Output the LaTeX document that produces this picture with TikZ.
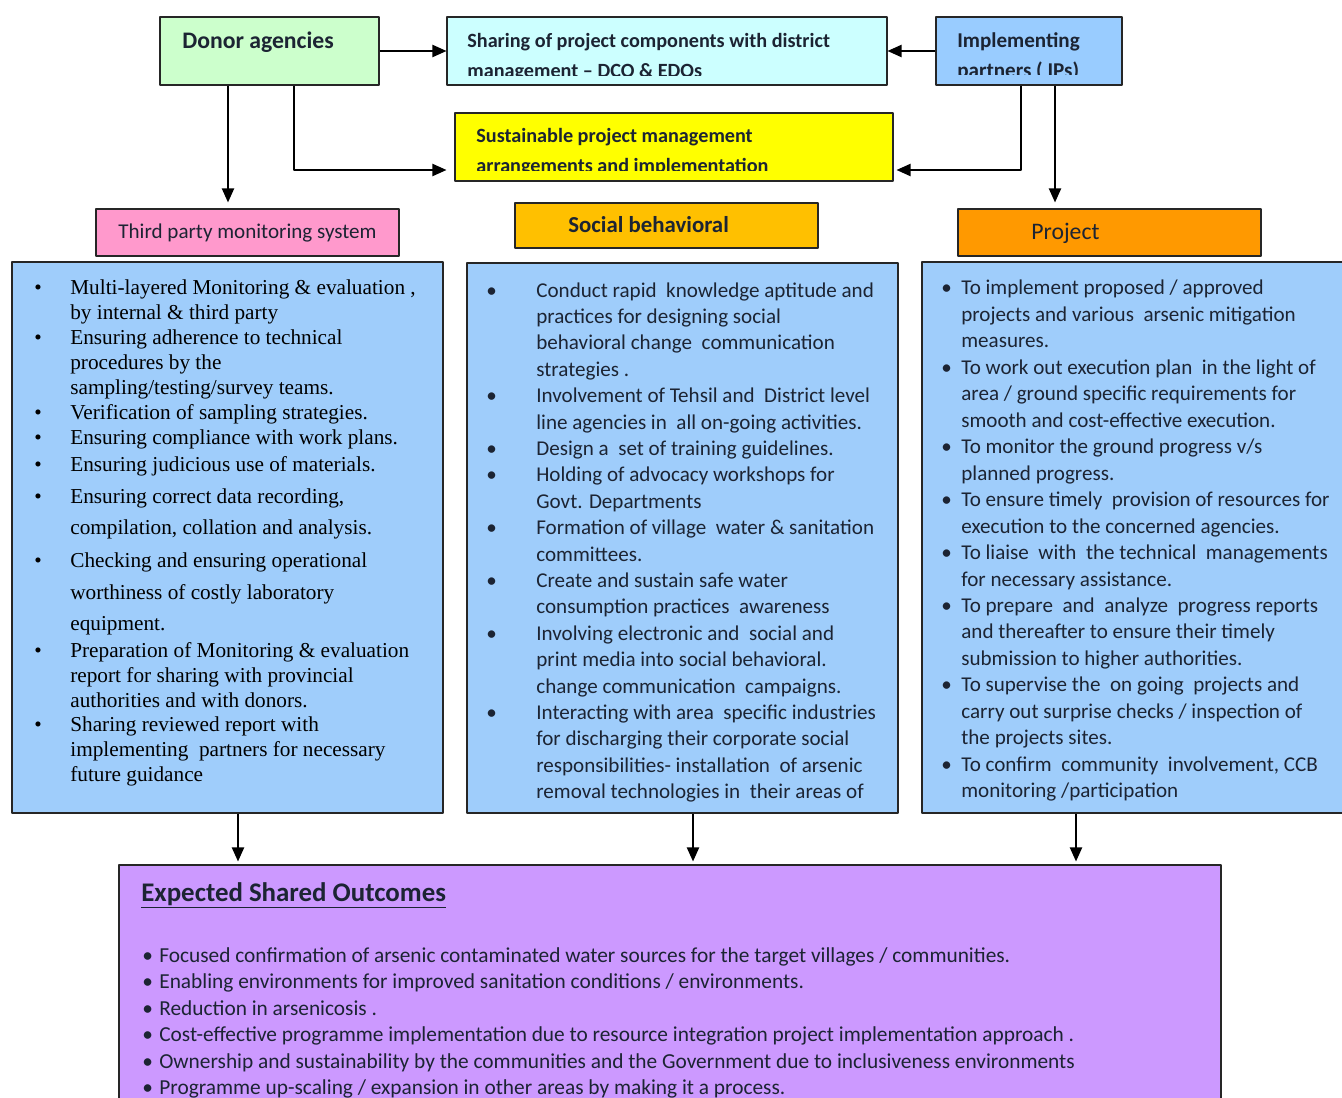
\documentclass[tikz,border=0pt]{standalone}
\usepackage{fontspec}
\setmainfont{Carlito}
\newfontfamily\serifbox{Liberation Serif}
\usetikzlibrary{arrows.meta}

\definecolor{donorgreen}{HTML}{CCFFCC}
\definecolor{sharecyan}{HTML}{CCFFFF}
\definecolor{implblue}{HTML}{99CCFF}
\definecolor{sustyellow}{HTML}{FFFF00}
\definecolor{thirdpink}{HTML}{FF99CC}
\definecolor{socialgold}{HTML}{FFC000}
\definecolor{projorange}{HTML}{FF9900}
\definecolor{listblue}{HTML}{9FCDFB}
\definecolor{outviolet}{HTML}{CC99FF}
\definecolor{inkdark}{HTML}{1C2433}

\tikzset{
  box/.style={draw=black!85, line width=0.7pt, inner sep=0pt},
  toptext/.style={anchor=base west, inner sep=0pt, text=inkdark, font=\bfseries\fontsize{11.5}{17}\selectfont},
  listtext/.style={anchor=base west, inner sep=0pt, text=inkdark},
}

\begin{document}
\begin{tikzpicture}[x=0.02cm, y=-0.02cm, >={Triangle[length=8pt,width=7pt]}, line join=round]
\useasboundingbox (0,0) rectangle (1342,1098);
\clip (0,0) rectangle (1342,1098);
% top row
\node[box, fill=donorgreen, minimum width=4.38cm, minimum height=1.36cm] (donor) at (269.5,51) {};
\node[box, fill=sharecyan, minimum width=8.8cm, minimum height=1.36cm] (share) at (667,51) {};
\node[box, fill=implblue, minimum width=3.72cm, minimum height=1.36cm] (impl) at (1029,51) {};
\node[box, fill=sustyellow, minimum width=8.76cm, minimum height=1.36cm] (sust) at (674,147) {};
\node[toptext, font=\bfseries\fontsize{13.5}{16}\selectfont] (donortxt) at (182,49) {Donor agencies};
\begin{scope}
  \clip (447,17) rectangle (887,76);
  \node[toptext] (sharetxt) at (467,47.5) {\begin{tabular}[t]{@{}l@{}}Sharing of project components with district\\management -- DCO \& EDOs\end{tabular}};
\end{scope}
\begin{scope}
  \clip (936,17) rectangle (1122,75);
  \node[toptext, font=\bfseries\fontsize{12}{17}\selectfont] (impltxt) at (957,47.7) {\begin{tabular}[t]{@{}l@{}}Implementing\\partners ( IPs)\end{tabular}};
\end{scope}
\begin{scope}
  \clip (455,113) rectangle (893,171);
  \node[toptext] (susttxt) at (476,142.7) {\begin{tabular}[t]{@{}l@{}}Sustainable project management\\arrangements and implementation\end{tabular}};
\end{scope}
% column heads
\node[box, fill=thirdpink, minimum width=6.06cm, minimum height=0.94cm, font=\fontsize{12}{14}\selectfont, text=inkdark] (third) at (247.5,232.5) {Third party monitoring system};
\node[box, fill=socialgold, minimum width=6.06cm, minimum height=0.9cm] (social) at (666.5,225.5) {};
\node[listtext, font=\bfseries\fontsize{13}{15}\selectfont] (socialtxt) at (568,232.7) {Social behavioral};
\node[box, fill=projorange, minimum width=6.06cm, minimum height=0.94cm] (proj) at (1109.5,232.5) {};
\node[listtext, font=\fontsize{13.5}{15}\selectfont] (projtxt) at (1031,240) {Project};
% lists
\node[box, fill=listblue, minimum width=8.62cm, minimum height=11.02cm] (leftbox) at (227.5,537.5) {};
\node[box, fill=listblue, minimum width=8.62cm, minimum height=11cm] (midbox) at (682.5,538) {};
\node[box, fill=listblue, minimum width=8.56cm, minimum height=11.02cm] (rightbox) at (1136,537.5) {};
\node[listtext, text=black, font=\serifbox\fontsize{12.1}{14.17}\selectfont] (lefttxt) at (34,295) {\begin{tabular}[t]{@{}p{0.72cm}@{}l@{}}
\textbullet & Multi-layered Monitoring \& evaluation ,\\
 & by internal \& third party\\
\textbullet & Ensuring adherence to technical\\
 & procedures by the\\
 & sampling/testing/survey teams.\\
\textbullet & Verification of sampling strategies.\\
\textbullet & Ensuring compliance with work plans.\\[1.2pt]
\textbullet & Ensuring judicious use of materials.\\[4pt]
\textbullet & Ensuring correct data recording,\\[3.5pt]
 & compilation, collation and analysis.\\[4.6pt]
\textbullet & Checking and ensuring operational\\[4pt]
 & worthiness of costly laboratory\\[3.5pt]
 & equipment.\\[1.2pt]
\textbullet & Preparation of Monitoring \& evaluation\\
 & report for sharing with provincial\\
 & authorities and with donors.\\
\textbullet & Sharing reviewed report with\\
 & implementing\ \ partners for necessary\\
 & future guidance
\end{tabular}};
\node[listtext, font=\fontsize{12}{15.03}\selectfont] (midtxt) at (486,297) {\begin{tabular}[t]{@{}p{1cm}@{}l@{}}
\textbullet & Conduct rapid\ \ knowledge aptitude and\\
 & practices for designing social\\
 & behavioral change\ \ communication\\
 & strategies .\\
\textbullet & Involvement of Tehsil and\ \ District level\\
 & line agencies in\ \ all on-going activities.\\
\textbullet & Design a\ \ set of training guidelines.\\
\textbullet & Holding of advocacy workshops for\\
 & Govt. Departments\\
\textbullet & Formation of village\ \ water \& sanitation\\
 & committees.\\
\textbullet & Create and sustain safe water\\
 & consumption practices\ \ awareness\\
\textbullet & Involving electronic and\ \ social and\\
 & print media into social behavioral.\\
 & change communication\ \ campaigns.\\
\textbullet & Interacting with area\ \ specific industries\\
 & for discharging their corporate social\\
 & responsibilities- installation\ \ of arsenic\\
 & removal technologies in\ \ their areas of
\end{tabular}};
\node[listtext, font=\fontsize{12}{15.06}\selectfont] (righttxt) at (941,295) {\begin{tabular}[t]{@{}p{0.4cm}@{}l@{}}
\textbullet & To implement proposed / approved\\
 & projects and various\ \ arsenic mitigation\\
 & measures.\\
\textbullet & To work out execution plan\ \ in the light of\\
 & area / ground specific requirements for\\
 & smooth and cost-effective execution.\\
\textbullet & To monitor the ground progress v/s\\
 & planned progress.\\
\textbullet & To ensure timely\ \ provision of resources for\\
 & execution to the concerned agencies.\\
\textbullet & To liaise\ \ with\ \ the technical\ \ managements\\
 & for necessary assistance.\\
\textbullet & To prepare\ \ and\ \ analyze\ \ progress reports\\
 & and thereafter to ensure their timely\\
 & submission to higher authorities.\\
\textbullet & To supervise the\ \ on going\ \ projects and\\
 & carry out surprise checks / inspection of\\
 & the projects sites.\\
\textbullet & To confirm\ \ community\ \ involvement, CCB\\
 & monitoring /participation
\end{tabular}};
% outcomes
\node[box, fill=outviolet, minimum width=22.04cm, minimum height=5.1cm] (outbox) at (670,992.5) {};
\node[listtext, font=\bfseries\fontsize{15.3}{18}\selectfont] (outtitle) at (141,901) {\underline{Expected Shared Outcomes}};
\node[listtext, font=\fontsize{12.15}{15.1}\selectfont] (outtxt) at (142,962) {\begin{tabular}[t]{@{}p{0.34cm}@{}l@{}}
\textbullet & Focused confirmation of arsenic contaminated water sources for the target villages / communities.\\
\textbullet & Enabling environments for improved sanitation conditions / environments.\\
\textbullet & Reduction in arsenicosis .\\
\textbullet & Cost-effective programme implementation due to resource integration project implementation approach .\\
\textbullet & Ownership and sustainability by the communities and the Government due to inclusiveness environments\\
\textbullet & Programme up-scaling / expansion in other areas by making it a process.
\end{tabular}};
% connectors
\draw[->, line width=0.8pt] (donor.east) -- (share.west);
\draw[->, line width=0.8pt] (impl.west) -- (share.east);
\draw[->, line width=0.8pt, shorten >=0.12cm] (donor.south -| 228,0) -- (third.north -| 228,0);
\draw[->, line width=0.8pt, shorten >=0.16cm] (donor.south -| 294,0) |- (sust.west |- 0,170);
\draw[->, line width=0.8pt, shorten >=0.06cm] (impl.south -| 1021,0) |- (sust.east |- 0,170);
\draw[->, line width=0.8pt, shorten >=0.12cm] (impl.south -| 1055,0) -- (proj.north -| 1055,0);
\draw[->, line width=0.8pt, shorten >=0.06cm] (leftbox.south -| 238,0) -- (outbox.north -| 238,0);
\draw[->, line width=0.8pt, shorten >=0.06cm] (midbox.south -| 693,0) -- (outbox.north -| 693,0);
\draw[->, line width=0.8pt, shorten >=0.06cm] (rightbox.south -| 1076,0) -- (outbox.north -| 1076,0);
\end{tikzpicture}
\end{document}
